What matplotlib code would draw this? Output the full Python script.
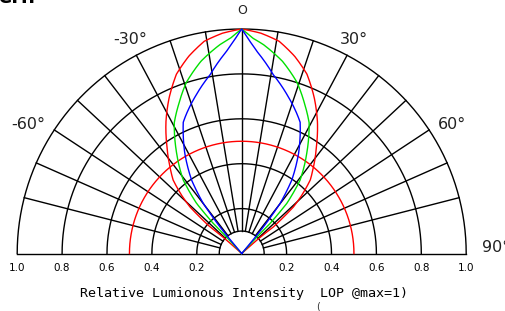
"""
Polar radiation pattern (relative luminous intensity vs. angle)
Half-plane chart drawn on plain cartesian axes
"""

import numpy as np
import matplotlib
matplotlib.use('Agg')
import matplotlib.pyplot as plt

# --- data (angle in degrees from the axis, relative intensity) ---
red_angle = [0, 5, 10, 15, 20, 25, 30, 35, 40, 43, 46, 48, 50, 48.5, 48]
red_value = [1.0, 0.985, 0.96, 0.91, 0.85, 0.765, 0.675, 0.58, 0.495, 0.448, 0.37, 0.31, 0.185, 0.09, 0.0]

green_angle = [0, 3, 6, 12, 18, 23, 27.3, 33, 38.5, 42, 43.4, 42.5, 42]
green_value = [1.0, 0.96, 0.935, 0.875, 0.80, 0.72, 0.655, 0.532, 0.418, 0.30, 0.184, 0.08, 0.0]

blue_angle = [0, 2, 4.3, 10, 16, 22, 24, 29.6, 34.3, 37.5, 39.2, 40, 40]
blue_value = [1.0, 0.95, 0.903, 0.809, 0.735, 0.664, 0.64, 0.513, 0.396, 0.281, 0.153, 0.058, 0.0]

# half-power reference circle
ref_radius = 0.5

# grid
ring_radii = [0.1, 0.2, 0.4, 0.6, 0.8, 1.0]
spoke_angles = [0, 9.3, 18.6, 28.0, 37.6, 47.0, 56.6, 66.2, 75.6]
tick_values = [1.0, 0.8, 0.6, 0.4, 0.2]
angle_labels = [('O', 0, 1.082), ('-30°', -27.6, 1.075), ('30°', 27.6, 1.075),
                ('-60°', -58.8, 1.11), ('60°', 58.6, 1.10)]


def to_xy(angle_deg, r):
    """polar (angle from vertical, radius) -> x, y"""
    a = np.radians(angle_deg)
    return r * np.sin(a), r * np.cos(a)


def lobe(angles, values, n=30):
    """densify the lobe in polar space, then mirror it to both sides"""
    angles = np.asarray(angles, float)
    values = np.asarray(values, float)
    t = np.arange(len(angles))
    tf = np.linspace(0, len(angles) - 1, (len(angles) - 1) * n + 1)
    a = np.interp(tf, t, angles)
    r = np.interp(tf, t, values)
    a_full = np.concatenate([-a[::-1], a[1:]])
    r_full = np.concatenate([r[::-1], r[1:]])
    return to_xy(a_full, r_full)


fig = plt.figure(figsize=(5.06, 3.11), dpi=100)
ax = fig.add_axes([0, 0, 1, 1])
ax.set_xlim(-1.0766, 1.1773)
ax.set_ylim(-0.2561, 1.1292)
ax.axis('off')

grid_kw = dict(color='black', lw=1.0, zorder=1)

# rings
arc = np.linspace(-90, 90, 361)
for r in ring_radii:
    x, y = to_xy(arc, r)
    ax.plot(x, y, **grid_kw)

# spokes (start at the innermost ring)
for a in spoke_angles:
    for s in ([a] if a == 0 else [-a, a]):
        x, y = to_xy(np.array([s, s]), np.array([ring_radii[0], 1.0]))
        ax.plot(x, y, **grid_kw)

# base line (+-90 deg)
ax.plot([-1.0, 1.0], [0, 0], **grid_kw)

# curves
x, y = to_xy(arc, np.full_like(arc, ref_radius))
ax.plot(x, y, color='#ff0000', lw=1.0, zorder=2)

for angles, values, color in [(red_angle, red_value, '#ff0000'),
                              (green_angle, green_value, '#00e000'),
                              (blue_angle, blue_value, '#0000ff')]:
    x, y = lobe(angles, values)
    ax.plot(x, y, color=color, lw=1.0, zorder=3)

# angle labels
for text, a, r in angle_labels:
    x, y = to_xy(a, r)
    size = 9 if text == 'O' else 11.5
    ax.text(x, y, text, ha='center', va='center', fontsize=size, color='#222222')
ax.text(1.07, 0.025, '90°', ha='left', va='center', fontsize=11.5, color='#222222')

# radius tick labels under the base line
for v in tick_values:
    ax.text(-v, -0.066, f'{v:.1f}', ha='center', va='center', fontsize=7.5)
    ax.text(v, -0.066, f'{v:.1f}', ha='center', va='center', fontsize=7.5)

ax.text(0.012, -0.176, 'Relative Lumionous Intensity  LOP @max=1)',
        ha='center', va='center', fontsize=9.6, family='DejaVu Sans Mono')
ax.text(0.342, -0.236, '(', ha='center', va='center', fontsize=7, color='#333333')

# clipped heading remnant at the top-left corner
fig.text(-0.004, 1 - 3 / 311, 'ern', fontsize=14, fontweight='bold', va='baseline')

fig.savefig('out.png', dpi=100)
